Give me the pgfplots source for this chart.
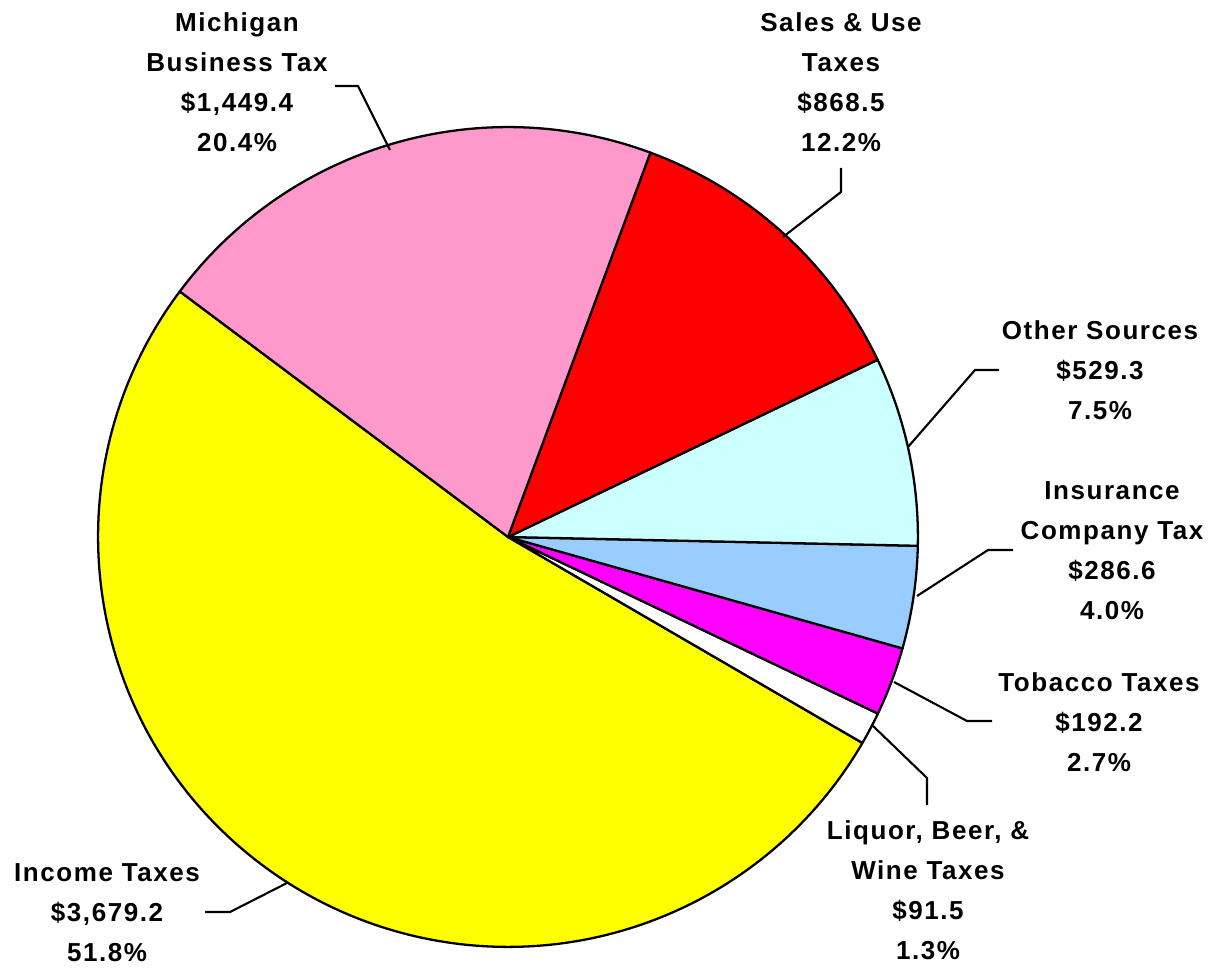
\documentclass[border=0pt]{standalone}
\usepackage{pgfplots}
\pgfplotsset{compat=1.18}
\usepackage{pgfplotstable}
\usepackage{fontspec}
\newfontfamily\lblfont[LetterSpace=6]{Liberation Sans}

\definecolor{slice0}{HTML}{FFFF00} % Income Taxes
\definecolor{slice1}{HTML}{FFFFFF} % Liquor, Beer, & Wine
\definecolor{slice2}{HTML}{FF00FF} % Tobacco
\definecolor{slice3}{HTML}{99CCFF} % Insurance Company Tax
\definecolor{slice4}{HTML}{CCFFFF} % Other Sources
\definecolor{slice5}{HTML}{FF0000} % Sales & Use
\definecolor{slice6}{HTML}{FF99CC} % Michigan Business Tax

% revenue, millions of dollars (counter-clockwise from the income slice)
\pgfplotstableread{
name      value
Income    3679.2
Liquor    91.5
Tobacco   192.2
Insurance 286.6
Other     529.3
Sales     868.5
MBT       1449.4
}\piedata

\begin{document}
\begin{tikzpicture}
% cumulative angles for the wedges
\def\total{0}
\pgfplotsforeachungrouped \i in {0,...,6}{%
  \pgfplotstablegetelem{\i}{value}\of\piedata
  \pgfmathsetmacro\total{\total+\pgfplotsretval}%
}
\def\cum{143.2}
\pgfplotsforeachungrouped \i in {0,...,6}{%
  \pgfplotstablegetelem{\i}{value}\of\piedata
  \pgfmathsetmacro\slicefrac{\pgfplotsretval/\total}%
  \pgfmathsetmacro\slicespan{360*\slicefrac}%
  \expandafter\xdef\csname sa\i\endcsname{\cum}%
  \pgfmathsetmacro\cum{\cum+\slicespan}%
  \expandafter\xdef\csname ea\i\endcsname{\cum}%
}
\begin{axis}[
  x=0.02cm, y=0.02cm,
  xmin=0, xmax=1220, ymin=0, ymax=967,
  hide axis, clip=false,
]
\coordinate (bbsw) at (axis cs:0,0);
\coordinate (bbne) at (axis cs:1220,967);
\pgfplotsinvokeforeach{0,...,6}{
  \filldraw[fill=slice#1, draw=black, line width=1.3pt, line join=round]
    (axis cs:508,430) -- ++(\csname sa#1\endcsname:8.2cm)
    arc[start angle=\csname sa#1\endcsname, end angle=\csname ea#1\endcsname, radius=8.2cm] -- cycle;
}
% leader lines
\begin{scope}[line width=1.2pt, line join=round]
\draw (axis cs:335,881) -- (axis cs:358,881) -- (axis cs:390,817);
\draw (axis cs:841,799) -- (axis cs:841,775) -- (axis cs:783,730);
\draw (axis cs:999,597) -- (axis cs:975,597) -- (axis cs:908,520);
\draw (axis cs:1013,417) -- (axis cs:988,417) -- (axis cs:917,371);
\draw (axis cs:992,246) -- (axis cs:967,246) -- (axis cs:894,285);
\draw (axis cs:927,162) -- (axis cs:927,189) -- (axis cs:873,241);
\draw (axis cs:205,55) -- (axis cs:230,55) -- (axis cs:287,84);
\end{scope}
% labels
\begin{scope}[every node/.style={align=center, inner sep=0pt,
    font=\lblfont\bfseries\fontsize{14.8}{22.76}\selectfont}]
\node at (axis cs:237,885) {Michigan\\Business Tax\\\$1,449.4\\20.4\%};
\node at (axis cs:841,885) {Sales \& Use\\Taxes\\\$868.5\\12.2\%};
\node at (axis cs:1100,597) {Other Sources\\\$529.3\\7.5\%};
\node at (axis cs:1112,416) {Insurance\\Company Tax\\\$286.6\\4.0\%};
\node at (axis cs:1099,245) {Tobacco Taxes\\\$192.2\\2.7\%};
\node at (axis cs:928,77) {Liquor, Beer, \&\\Wine Taxes\\\$91.5\\1.3\%};
\node at (axis cs:107,54) {Income Taxes\\\$3,679.2\\51.8\%};
\end{scope}
\end{axis}
\pgfresetboundingbox
\useasboundingbox (bbsw) rectangle (bbne);
\end{tikzpicture}
\end{document}
